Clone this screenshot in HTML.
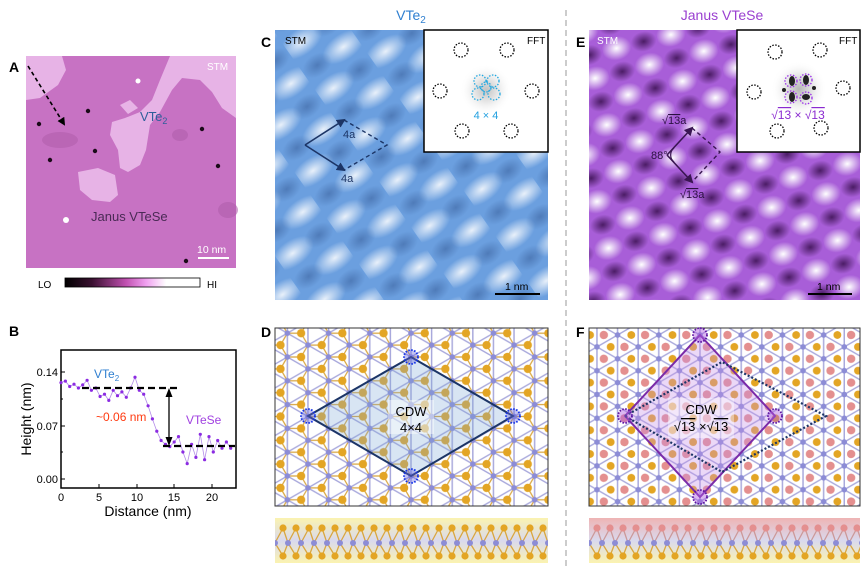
<!DOCTYPE html>
<html><head><meta charset="utf-8"><style>
html,body{margin:0;padding:0;background:#fff}
svg{display:block;font-family:"Liberation Sans",Arial,sans-serif}
</style></head><body>
<svg width="864" height="575" viewBox="0 0 864 575" xmlns="http://www.w3.org/2000/svg">
<defs>
 <radialGradient id="wb" cx="50%" cy="50%" r="50%"><stop offset="0" stop-color="#ffffff" stop-opacity="0.85"/><stop offset="1" stop-color="#ffffff" stop-opacity="0"/></radialGradient>
 <radialGradient id="db" cx="50%" cy="50%" r="50%"><stop offset="0" stop-color="#2c4f8a" stop-opacity="0.45"/><stop offset="1" stop-color="#2c4f8a" stop-opacity="0"/></radialGradient>
 <radialGradient id="pw" cx="50%" cy="50%" r="50%"><stop offset="0" stop-color="#ffffff" stop-opacity="1"/><stop offset="1" stop-color="#ffffff" stop-opacity="0"/></radialGradient>
 <radialGradient id="pd" cx="50%" cy="50%" r="50%"><stop offset="0" stop-color="#3a1050" stop-opacity="0.85"/><stop offset="1" stop-color="#3a1050" stop-opacity="0"/></radialGradient>
 <pattern id="stmC" width="64" height="56" patternUnits="userSpaceOnUse" patternTransform="translate(280,40) rotate(-35)">
  <rect width="64" height="56" fill="#6b9fdf"/>
  <ellipse cx="16" cy="14" rx="24" ry="13" fill="url(#wb)"/>
  <ellipse cx="48" cy="42" rx="24" ry="13" fill="url(#wb)"/>
  <ellipse cx="48" cy="14" rx="16" ry="11" fill="url(#db)"/>
  <ellipse cx="16" cy="42" rx="16" ry="11" fill="url(#db)"/>
 </pattern>
 <pattern id="stmE" width="56" height="48" patternUnits="userSpaceOnUse" patternTransform="translate(600,40) rotate(-14)">
  <rect width="56" height="48" fill="#a85ed8"/>
  <ellipse cx="14" cy="12" rx="15" ry="12" fill="url(#pw)"/>
  <ellipse cx="42" cy="36" rx="15" ry="12" fill="url(#pw)"/>
  <ellipse cx="42" cy="12" rx="13" ry="10" fill="url(#pd)"/>
  <ellipse cx="14" cy="36" rx="13" ry="10" fill="url(#pd)"/>
 </pattern>
 <pattern id="latD" width="17" height="29.44" patternUnits="userSpaceOnUse" patternTransform="translate(411,357) rotate(90) scale(1.4)">
  <rect width="17" height="29.44" fill="#fff"/>
  <g stroke="#a9a9dc" stroke-width="1">
   <line x1="0" y1="0" x2="17" y2="0"/><line x1="0" y1="29.44" x2="17" y2="29.44"/>
   <line x1="-8.5" y1="14.72" x2="25.5" y2="14.72"/>
   <line x1="0" y1="0" x2="8.5" y2="14.72"/><line x1="17" y1="0" x2="8.5" y2="14.72"/>
   <line x1="8.5" y1="14.72" x2="0" y2="29.44"/><line x1="8.5" y1="14.72" x2="17" y2="29.44"/>
  </g>
  <g stroke="#d9a640" stroke-width="0.9">
   <line x1="8.5" y1="4.91" x2="0" y2="0"/><line x1="8.5" y1="4.91" x2="17" y2="0"/><line x1="8.5" y1="4.91" x2="8.5" y2="14.72"/>
   <line x1="0" y1="19.63" x2="0" y2="29.44"/><line x1="0" y1="19.63" x2="8.5" y2="14.72"/>
   <line x1="17" y1="19.63" x2="17" y2="29.44"/><line x1="17" y1="19.63" x2="8.5" y2="14.72"/>
  </g>
  <g fill="#8c8cd6"><circle cx="0" cy="0" r="2"/><circle cx="17" cy="0" r="2"/><circle cx="8.5" cy="14.72" r="2"/><circle cx="0" cy="29.44" r="2"/><circle cx="17" cy="29.44" r="2"/></g>
  <g fill="#e3a524"><circle cx="8.5" cy="4.91" r="3"/><circle cx="0" cy="19.63" r="3"/><circle cx="17" cy="19.63" r="3"/></g>
 </pattern>
 <pattern id="latF" width="17" height="29.44" patternUnits="userSpaceOnUse" patternTransform="translate(700,335) rotate(90) scale(1.4)">
  <rect width="17" height="29.44" fill="#fff"/>
  <g stroke="#a9a9dc" stroke-width="1">
   <line x1="0" y1="0" x2="17" y2="0"/><line x1="0" y1="29.44" x2="17" y2="29.44"/>
   <line x1="-8.5" y1="14.72" x2="25.5" y2="14.72"/>
   <line x1="0" y1="0" x2="8.5" y2="14.72"/><line x1="17" y1="0" x2="8.5" y2="14.72"/>
   <line x1="8.5" y1="14.72" x2="0" y2="29.44"/><line x1="8.5" y1="14.72" x2="17" y2="29.44"/>
  </g>
  <g fill="#8c8cd6"><circle cx="0" cy="0" r="2"/><circle cx="17" cy="0" r="2"/><circle cx="8.5" cy="14.72" r="2"/><circle cx="0" cy="29.44" r="2"/><circle cx="17" cy="29.44" r="2"/></g>
  <g fill="#e3a524"><circle cx="8.5" cy="4.91" r="2.8"/><circle cx="0" cy="19.63" r="2.8"/><circle cx="17" cy="19.63" r="2.8"/></g>
  <g fill="#e48f8f"><circle cx="0" cy="9.81" r="3"/><circle cx="17" cy="9.81" r="3"/><circle cx="8.5" cy="24.53" r="3"/></g>
 </pattern>
 <pattern id="sideD" width="26" height="45" patternUnits="userSpaceOnUse" patternTransform="translate(275,518)">
  <g stroke="#d9a640" stroke-width="1.3"><line x1="0" y1="25" x2="8" y2="10"/><line x1="8" y1="10" x2="13" y2="25"/><line x1="0" y1="25" x2="8" y2="38"/><line x1="8" y1="38" x2="13" y2="25"/><line x1="13" y1="25" x2="21" y2="10"/><line x1="21" y1="10" x2="26" y2="25"/><line x1="13" y1="25" x2="21" y2="38"/><line x1="21" y1="38" x2="26" y2="25"/></g>
  <g fill="#8c8cd6"><circle cx="0" cy="25" r="3"/><circle cx="13" cy="25" r="3"/><circle cx="26" cy="25" r="3"/></g>
  <g fill="#e3a524"><circle cx="8" cy="10" r="3.6"/><circle cx="21" cy="10" r="3.6"/><circle cx="8" cy="38" r="3.6"/><circle cx="21" cy="38" r="3.6"/></g>
 </pattern>
 <pattern id="sideF" width="26" height="45" patternUnits="userSpaceOnUse" patternTransform="translate(589,518)">
  <g stroke="#c99" stroke-width="1.3"><line x1="0" y1="25" x2="8" y2="10"/><line x1="8" y1="10" x2="13" y2="25"/><line x1="13" y1="25" x2="21" y2="10"/><line x1="21" y1="10" x2="26" y2="25"/></g>
  <g stroke="#d9a640" stroke-width="1.3"><line x1="0" y1="25" x2="8" y2="38"/><line x1="8" y1="38" x2="13" y2="25"/><line x1="13" y1="25" x2="21" y2="38"/><line x1="21" y1="38" x2="26" y2="25"/></g>
  <g fill="#8c8cd6"><circle cx="0" cy="25" r="3"/><circle cx="13" cy="25" r="3"/><circle cx="26" cy="25" r="3"/></g>
  <g fill="#e48f8f"><circle cx="8" cy="10" r="3.6"/><circle cx="21" cy="10" r="3.6"/></g>
  <g fill="#e3a524"><circle cx="8" cy="38" r="3.6"/><circle cx="21" cy="38" r="3.6"/></g>
 </pattern>
 <linearGradient id="gD" x1="0" y1="0" x2="0" y2="1"><stop offset="0" stop-color="#fbf3b0"/><stop offset="0.5" stop-color="#d9d9ee"/><stop offset="1" stop-color="#fbf3b0"/></linearGradient>
 <linearGradient id="gF" x1="0" y1="0" x2="0" y2="1"><stop offset="0" stop-color="#efb4b4"/><stop offset="0.5" stop-color="#d9d9ee"/><stop offset="1" stop-color="#fbf3b0"/></linearGradient>
 <linearGradient id="cbar" x1="0" y1="0" x2="1" y2="0"><stop offset="0" stop-color="#000"/><stop offset="0.2" stop-color="#3a1030"/><stop offset="0.45" stop-color="#c050b0"/><stop offset="0.6" stop-color="#f0a0f0"/><stop offset="0.75" stop-color="#fff"/><stop offset="1" stop-color="#fff"/></linearGradient>
 <radialGradient id="fftg" cx="50%" cy="50%" r="50%"><stop offset="0" stop-color="#999"/><stop offset="0.5" stop-color="#ddd"/><stop offset="1" stop-color="#fff" stop-opacity="0"/></radialGradient>
 <marker id="ah" markerWidth="8" markerHeight="8" refX="6" refY="4" orient="auto" markerUnits="userSpaceOnUse"><path d="M0,0 L8,4 L0,8 z" fill="#000"/></marker>
 <marker id="ahb" markerWidth="9" markerHeight="9" refX="7" refY="4.5" orient="auto" markerUnits="userSpaceOnUse"><path d="M0,0 L9,4.5 L0,9 z" fill="#1c3566"/></marker>
 <marker id="ahp" markerWidth="9" markerHeight="9" refX="7" refY="4.5" orient="auto" markerUnits="userSpaceOnUse"><path d="M0,0 L9,4.5 L0,9 z" fill="#3a1652"/></marker>
</defs>

<!-- Panel A -->
<text x="9" y="72" font-size="14" font-weight="bold">A</text>
<rect x="26" y="56" width="210" height="212" fill="#c772c3"/>
<g fill="#e7b3e6">
 <path d="M26,56 L62,56 L66,70 L58,85 L40,98 L26,100 z"/>
 <path d="M170,56 L236,56 L236,118 L222,108 L212,92 L200,80 L182,78 L172,90 L160,112 L150,125 L146,150 L140,165 L128,172 L120,168 L118,150 L110,135 L112,122 L125,118 L140,112 L152,100 L160,80 z"/>
 <path d="M78,172 L98,168 L115,175 L118,195 L110,202 L92,200 L80,190 z"/>
 <path d="M120,105 L130,100 L138,108 L128,114 z"/>
</g>
<g fill="#b05fac" opacity="0.6"><ellipse cx="60" cy="140" rx="18" ry="8"/><ellipse cx="228" cy="210" rx="10" ry="8"/><ellipse cx="180" cy="135" rx="8" ry="6"/></g>
<g fill="#1a0a18"><circle cx="88" cy="111" r="2.2"/><circle cx="39" cy="124" r="2.2"/><circle cx="95" cy="151" r="2.2"/><circle cx="50" cy="160" r="2.2"/><circle cx="202" cy="129" r="2.2"/><circle cx="218" cy="166" r="2.2"/><circle cx="186" cy="261" r="2.2"/></g>
<g fill="#fff"><circle cx="138" cy="81" r="2.5"/><circle cx="66" cy="220" r="3"/></g>
<line x1="28" y1="66" x2="64" y2="124" stroke="#000" stroke-width="1.6" stroke-dasharray="4,3" marker-end="url(#ah)"/>
<text x="207" y="70" font-size="10" fill="#fff">STM</text>
<text x="140" y="121" font-size="13" fill="#2f5f9a">VTe<tspan font-size="9" dy="3">2</tspan></text>
<text x="91" y="221" font-size="13" fill="#4a2a55">Janus VTeSe</text>
<line x1="198" y1="258" x2="229" y2="258" stroke="#fff" stroke-width="2"/>
<text x="197" y="253" font-size="10.5" fill="#fff">10 nm</text>
<text x="38" y="288" font-size="10">LO</text>
<rect x="65" y="278" width="135" height="9" fill="url(#cbar)" stroke="#000" stroke-width="0.8"/>
<text x="207" y="288" font-size="10">HI</text>

<!-- Panel B -->
<text x="9" y="336" font-size="14" font-weight="bold">B</text>
<rect x="61" y="350" width="175" height="138" fill="none" stroke="#000" stroke-width="1.5"/>
<g stroke="#000" stroke-width="1"><line x1="61" y1="372" x2="65" y2="372"/><line x1="61" y1="426" x2="65" y2="426"/><line x1="61" y1="479" x2="65" y2="479"/><line x1="61" y1="399" x2="63" y2="399"/><line x1="61" y1="452" x2="63" y2="452"/>
<line x1="99" y1="488" x2="99" y2="484"/><line x1="137" y1="488" x2="137" y2="484"/><line x1="174" y1="488" x2="174" y2="484"/><line x1="212" y1="488" x2="212" y2="484"/></g>
<g font-size="11" text-anchor="end"><text x="58" y="376">0.14</text><text x="58" y="430">0.07</text><text x="58" y="483">0.00</text></g>
<g font-size="11" text-anchor="middle"><text x="61" y="501">0</text><text x="99" y="501">5</text><text x="137" y="501">10</text><text x="174" y="501">15</text><text x="212" y="501">20</text></g>
<text x="148" y="516" font-size="14" text-anchor="middle">Distance (nm)</text>
<text transform="translate(31,419) rotate(-90)" font-size="14" text-anchor="middle">Height (nm)</text>
<polyline fill="none" stroke="#b38ce8" stroke-width="0.8" points="61,382.6 65.4,381.1 69.7,386.5 74,384.2 78.4,388 82.7,384.9 87.1,380.3 91.4,390.3 95.8,388 100.1,396.5 104.5,394.2 108.8,400.4 113.2,390.3 117.5,395.7 121.9,391.9 126.3,397.3 130.6,388 135,377.2 139.3,390.3 143.7,394.2 148.1,405.8 152.4,418.9 156.8,431.2 161.1,440.5 165.5,444.3 169.8,446.6 174.2,442 178.5,436.6 182.9,452 187.2,463.6 191.6,444.3 195.9,457.4 200.3,434.3 204.6,459.7 209,436.6 213.3,452 217.7,440.5 222,448.2 226.4,442 230.7,448.2"/>
<g fill="#8b2be2">
<circle cx="61" cy="382.6" r="1.6"/><circle cx="65.4" cy="381.1" r="1.6"/><circle cx="69.7" cy="386.5" r="1.6"/><circle cx="74" cy="384.2" r="1.6"/><circle cx="78.4" cy="388" r="1.6"/><circle cx="82.7" cy="384.9" r="1.6"/><circle cx="87.1" cy="380.3" r="1.6"/><circle cx="91.4" cy="390.3" r="1.6"/><circle cx="95.8" cy="388" r="1.6"/><circle cx="100.1" cy="396.5" r="1.6"/><circle cx="104.5" cy="394.2" r="1.6"/><circle cx="108.8" cy="400.4" r="1.6"/><circle cx="113.2" cy="390.3" r="1.6"/><circle cx="117.5" cy="395.7" r="1.6"/><circle cx="121.9" cy="391.9" r="1.6"/><circle cx="126.3" cy="397.3" r="1.6"/><circle cx="130.6" cy="388" r="1.6"/><circle cx="135" cy="377.2" r="1.6"/><circle cx="139.3" cy="390.3" r="1.6"/><circle cx="143.7" cy="394.2" r="1.6"/><circle cx="148.1" cy="405.8" r="1.6"/><circle cx="152.4" cy="418.9" r="1.6"/><circle cx="156.8" cy="431.2" r="1.6"/><circle cx="161.1" cy="440.5" r="1.6"/><circle cx="165.5" cy="444.3" r="1.6"/><circle cx="169.8" cy="446.6" r="1.6"/><circle cx="174.2" cy="442" r="1.6"/><circle cx="178.5" cy="436.6" r="1.6"/><circle cx="182.9" cy="452" r="1.6"/><circle cx="187.2" cy="463.6" r="1.6"/><circle cx="191.6" cy="444.3" r="1.6"/><circle cx="195.9" cy="457.4" r="1.6"/><circle cx="200.3" cy="434.3" r="1.6"/><circle cx="204.6" cy="459.7" r="1.6"/><circle cx="209" cy="436.6" r="1.6"/><circle cx="213.3" cy="452" r="1.6"/><circle cx="217.7" cy="440.5" r="1.6"/><circle cx="222" cy="448.2" r="1.6"/><circle cx="226.4" cy="442" r="1.6"/><circle cx="230.7" cy="448.2" r="1.6"/>
</g>
<line x1="82" y1="388" x2="178" y2="388" stroke="#000" stroke-width="2.2" stroke-dasharray="7,4"/>
<line x1="163" y1="446" x2="235" y2="446" stroke="#000" stroke-width="2.2" stroke-dasharray="7,4"/>
<line x1="169" y1="392" x2="169" y2="442" stroke="#000" stroke-width="1.3"/>
<path d="M169,388 l-3.5,9 h7 z M169,446 l-3.5,-9 h7 z" fill="#000"/>
<text x="94" y="378" font-size="12" fill="#2f7fd0">VTe<tspan font-size="8" dy="3">2</tspan></text>
<text x="96" y="421" font-size="12" fill="#ff3a10">~0.06 nm</text>
<text x="186" y="424" font-size="12" fill="#a040e0">VTeSe</text>

<!-- Titles -->
<text x="411" y="20" font-size="14" fill="#2f7fd0" text-anchor="middle">VTe<tspan font-size="10" dy="3">2</tspan></text>
<text x="722" y="20" font-size="14" fill="#9a3fd0" text-anchor="middle">Janus VTeSe</text>
<line x1="566" y1="10" x2="566" y2="570" stroke="#999" stroke-width="1" stroke-dasharray="6,4"/>

<!-- Panel C -->
<text x="261" y="47" font-size="14" font-weight="bold">C</text>
<rect x="275" y="30" width="273" height="270" fill="url(#stmC)"/>
<text x="285" y="44" font-size="10">STM</text>
<line x1="305" y1="145" x2="344" y2="120" stroke="#1c3566" stroke-width="1.6" marker-end="url(#ahb)"/>
<line x1="305" y1="145" x2="344" y2="170" stroke="#1c3566" stroke-width="1.6" marker-end="url(#ahb)"/>
<path d="M344,120 L387,145 L344,170" fill="none" stroke="#1c3566" stroke-width="1.4" stroke-dasharray="4,3"/>
<text x="343" y="138" font-size="11" fill="#1c3566">4a</text>
<text x="341" y="182" font-size="11" fill="#1c3566">4a</text>
<line x1="495" y1="294" x2="540" y2="294" stroke="#000" stroke-width="2"/>
<text x="505" y="290" font-size="10.5">1 nm</text>
<rect x="424" y="30" width="124" height="122" fill="#fff" stroke="#000" stroke-width="1.5"/>
<circle cx="486" cy="90" r="26" fill="url(#fftg)" opacity="0.6"/>
<text x="527" y="44" font-size="10">FFT</text>
<g fill="none" stroke="#000" stroke-width="1.3" stroke-dasharray="1.5,1.5"><circle cx="461" cy="50" r="7"/><circle cx="507" cy="50" r="7"/><circle cx="440" cy="91" r="7"/><circle cx="532" cy="91" r="7"/><circle cx="462" cy="131" r="7"/><circle cx="511" cy="131" r="7"/></g>
<g fill="none" stroke="#22a8e0" stroke-width="1.3" stroke-dasharray="1.5,1.5"><circle cx="480" cy="81" r="6"/><circle cx="493" cy="81" r="6"/><circle cx="478" cy="94" r="6"/><circle cx="494" cy="94" r="6"/><circle cx="486" cy="87" r="5"/></g>
<text x="486" y="119" font-size="11" fill="#22a0e0" text-anchor="middle">4 × 4</text>

<!-- Panel E -->
<text x="576" y="47" font-size="14" font-weight="bold">E</text>
<rect x="589" y="30" width="271" height="270" fill="url(#stmE)"/>
<text x="597" y="44" font-size="10" fill="#fff">STM</text>
<line x1="667" y1="155" x2="692" y2="128" stroke="#3a1652" stroke-width="1.6" marker-end="url(#ahp)"/>
<line x1="667" y1="155" x2="692" y2="182" stroke="#3a1652" stroke-width="1.6" marker-end="url(#ahp)"/>
<path d="M692,128 L720,152 L692,182" fill="none" stroke="#3a1652" stroke-width="1.4" stroke-dasharray="4,3"/>
<path d="M674,148 A9,9 0 0 0 674,162" fill="none" stroke="#3a1652" stroke-width="1.2"/>
<text x="662" y="124" font-size="11" fill="#2a1040">√<tspan text-decoration="overline">13</tspan>a</text>
<text x="651" y="159" font-size="11" fill="#2a1040">88°</text>
<text x="680" y="198" font-size="11" fill="#2a1040">√<tspan text-decoration="overline">13</tspan>a</text>
<line x1="808" y1="294" x2="852" y2="294" stroke="#000" stroke-width="2"/>
<text x="817" y="290" font-size="10.5">1 nm</text>
<rect x="737" y="30" width="123" height="122" fill="#fff" stroke="#000" stroke-width="1.5"/>
<circle cx="799" cy="89" r="28" fill="url(#fftg)" opacity="0.7"/>
<g fill="#222"><ellipse cx="792" cy="81" rx="3" ry="5"/><ellipse cx="806" cy="80" rx="3" ry="5"/><ellipse cx="792" cy="97" rx="3" ry="5"/><ellipse cx="806" cy="97" rx="4" ry="3"/><circle cx="784" cy="90" r="2"/><circle cx="814" cy="88" r="2"/></g>
<text x="839" y="44" font-size="10">FFT</text>
<g fill="none" stroke="#000" stroke-width="1.3" stroke-dasharray="1.5,1.5"><circle cx="775" cy="52" r="7"/><circle cx="820" cy="50" r="7"/><circle cx="754" cy="92" r="7"/><circle cx="843" cy="88" r="7"/><circle cx="777" cy="131" r="7"/><circle cx="821" cy="128" r="7"/></g>
<g fill="none" stroke="#9a30e8" stroke-width="1.3" stroke-dasharray="1.5,1.5"><circle cx="791" cy="81" r="6"/><circle cx="806" cy="80" r="6"/><circle cx="791" cy="97" r="6"/><circle cx="806" cy="98" r="6"/></g>
<text x="798" y="119" font-size="12" fill="#8a2ad0" text-anchor="middle">√<tspan text-decoration="overline">13</tspan> × √<tspan text-decoration="overline">13</tspan></text>

<!-- Panel D -->
<text x="261" y="337" font-size="14" font-weight="bold">D</text>
<rect x="275" y="328" width="273" height="178" fill="url(#latD)" stroke="#333" stroke-width="1"/>
<polygon points="411,357 513,416 411,476 308,416" fill="#7fa8d8" fill-opacity="0.3" stroke="#1c3566" stroke-width="2"/>
<rect x="388" y="400" width="46" height="34" fill="#fff" fill-opacity="0.45"/>
<text x="411" y="416" font-size="13" text-anchor="middle">CDW</text>
<text x="411" y="432" font-size="13" text-anchor="middle">4×4</text>
<g fill="#6a6ae0" fill-opacity="0.4" stroke="#1030e8" stroke-width="1.8" stroke-dasharray="1.5,1.5"><circle cx="411" cy="357" r="7"/><circle cx="513" cy="416" r="7"/><circle cx="411" cy="476" r="7"/><circle cx="308" cy="416" r="7"/></g>
<rect x="275" y="518" width="273" height="45" fill="url(#gD)"/>
<rect x="275" y="518" width="273" height="45" fill="url(#sideD)"/>

<!-- Panel F -->
<text x="576" y="337" font-size="14" font-weight="bold">F</text>
<rect x="589" y="328" width="271" height="178" fill="url(#latF)" stroke="#333" stroke-width="1"/>
<polygon points="700,335 775,416 700,497 625,416" fill="#c590e8" fill-opacity="0.35" stroke="#7a2aa8" stroke-width="2"/>
<polygon points="625,416 722,362 826,416 722,472" fill="none" stroke="#1c3566" stroke-width="2.2" stroke-dasharray="2,2"/>
<rect x="668" y="398" width="66" height="40" fill="#fff" fill-opacity="0.4"/>
<text x="701" y="414" font-size="13" text-anchor="middle">CDW</text>
<text x="701" y="431" font-size="13" text-anchor="middle">√<tspan text-decoration="overline">13</tspan> ×√<tspan text-decoration="overline">13</tspan></text>
<g fill="#b060e0" fill-opacity="0.45" stroke="#5a10a0" stroke-width="1.8" stroke-dasharray="1.5,1.5"><circle cx="700" cy="335" r="7"/><circle cx="775" cy="416" r="7"/><circle cx="700" cy="497" r="7"/><circle cx="625" cy="416" r="7"/></g>
<rect x="589" y="518" width="271" height="45" fill="url(#gF)"/>
<rect x="589" y="518" width="271" height="45" fill="url(#sideF)"/>
</svg>
</body></html>
